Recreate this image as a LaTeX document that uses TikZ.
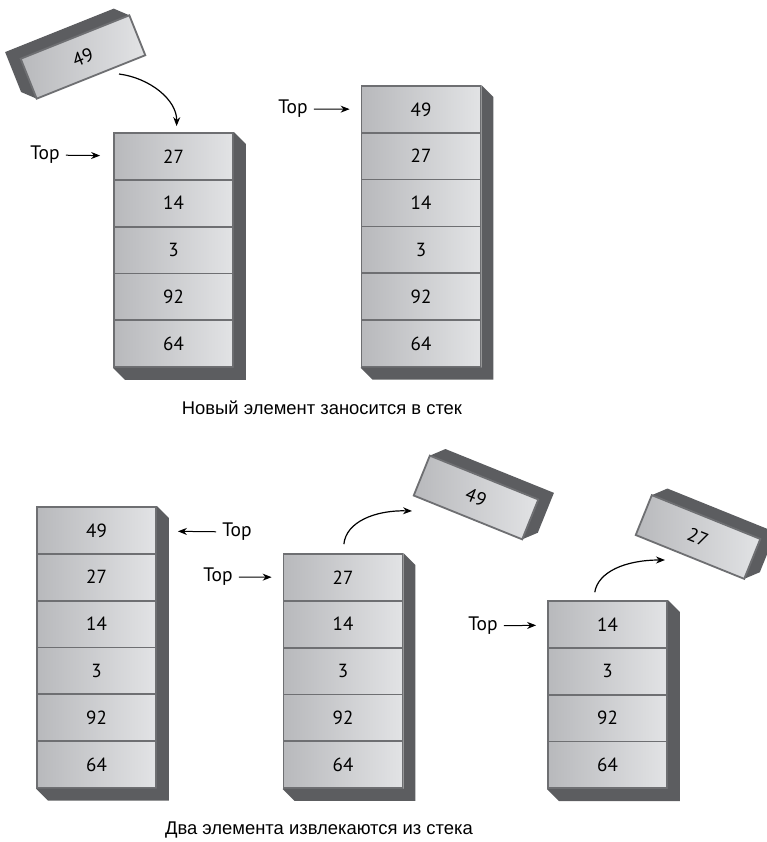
\documentclass[tikz,border=0pt]{standalone}
\usepackage{fontspec}
\setmainfont{PT Sans}
\newfontfamily\capfont{Liberation Sans}
\usetikzlibrary{arrows.meta}

\definecolor{cellL}{RGB}{184,185,188}
\definecolor{cellR}{RGB}{226,227,229}
\definecolor{cellEdge}{RGB}{110,111,114}
\definecolor{cellShade}{RGB}{92,93,96}

\begin{document}
\begin{tikzpicture}[x=1pt, y=-1pt, >={Stealth[length=9pt,width=7pt]}]
	\tikzstyle{cell}=[rectangle, draw=cellEdge, line width=1.8pt, left color=cellL, right color=cellR, minimum width=119pt, minimum height=46.8pt, inner sep=0pt, font=\fontsize{19}{19}\selectfont]
	\tikzstyle{side}=[fill=cellShade]
	\tikzstyle{toplabel}=[font=\fontsize{19.5}{19.5}\selectfont, inner sep=2pt]
	\tikzstyle{caption}=[font=\capfont\fontsize{18.4}{18.4}\selectfont]
	\tikzstyle{move}=[->, line width=1.2pt]
	\useasboundingbox (0,0) rectangle (767,842);

	% push: stack before
	\foreach \v [count=\i] in {27,14,3,92,64}
		\draw node[cell] at (173.5, {156.4+(\i-1)*46.8}) (a\i) {\v};
	\fill[side] (a1.north east) -- ++(12,12) -- ([shift={(12,12)}]a5.south east) -- ([shift={(12,12)}]a5.south west) -- (a5.south west) -- (a5.south east) -- cycle;

	% push: stack after
	\foreach \v [count=\i] in {49,27,14,3,92,64}
		\draw node[cell] at (421, {109.4+(\i-1)*46.8}) (b\i) {\v};
	\fill[side] (b1.north east) -- ++(12,12) -- ([shift={(12,12)}]b6.south east) -- ([shift={(12,12)}]b6.south west) -- (b6.south west) -- (b6.south east) -- cycle;

	% pop: three stacks
	\foreach \v [count=\i] in {49,27,14,3,92,64}
		\draw node[cell] at (96.5, {530.4+(\i-1)*46.8}) (c\i) {\v};
	\fill[side] (c1.north east) -- ++(12,12) -- ([shift={(12,12)}]c6.south east) -- ([shift={(12,12)}]c6.south west) -- (c6.south west) -- (c6.south east) -- cycle;

	\foreach \v [count=\i] in {27,14,3,92,64}
		\draw node[cell] at (343, {577.4+(\i-1)*46.8}) (d\i) {\v};
	\fill[side] (d1.north east) -- ++(12,12) -- ([shift={(12,12)}]d5.south east) -- ([shift={(12,12)}]d5.south west) -- (d5.south west) -- (d5.south east) -- cycle;

	\foreach \v [count=\i] in {14,3,92,64}
		\draw node[cell] at (607.5, {624.4+(\i-1)*46.8}) (e\i) {\v};
	\fill[side] (e1.north east) -- ++(12,12) -- ([shift={(12,12)}]e4.south east) -- ([shift={(12,12)}]e4.south west) -- (e4.south west) -- (e4.south east) -- cycle;

	% tilted elements
	\begin{scope}[shift={(83,57)}, rotate=21.8]
		\fill[side] (-58.5,21.5) -- (-70.5,9.5) -- (-70.5,-33.5) -- (46.5,-33.5) -- (58.5,-21.5) -- (-58.5,-21.5) -- cycle;
		\draw node[cell, minimum width=117pt, minimum height=43pt, rotate=21.8] at (0,0) (new49) {49};
	\end{scope}
	\begin{scope}[shift={(476,497.5)}, rotate=-22]
		\fill[side] (-58.5,-21.5) -- (-46.5,-33.5) -- (70.5,-33.5) -- (70.5,9.5) -- (58.5,21.5) -- (58.5,-21.5) -- cycle;
		\draw node[cell, minimum width=117pt, minimum height=43pt, rotate=-22] at (0,0) (out49) {49};
	\end{scope}
	\begin{scope}[shift={(698,537)}, rotate=-22]
		\fill[side] (-58.5,-21.5) -- (-46.5,-33.5) -- (70.5,-33.5) -- (70.5,9.5) -- (58.5,21.5) -- (58.5,-21.5) -- cycle;
		\draw node[cell, minimum width=117pt, minimum height=43pt, rotate=-22] at (0,0) (out27) {27};
	\end{scope}

	% Top pointers
	\draw node[toplabel] at (45, 155) (topa) {Top};
	\draw node[toplabel] at (293, 109) (topb) {Top};
	\draw node[toplabel] at (237, 532) (topc) {Top};
	\draw node[toplabel] at (218, 577) (topd) {Top};
	\draw node[toplabel] at (483, 626) (tope) {Top};
	\draw [->, line width=1pt, shorten >=13pt, shorten <=4pt] (topa) -- (a1);
	\draw [->, line width=1pt, shorten >=11pt, shorten <=4pt] (topb) -- (b1);
	\draw [->, line width=1pt, shorten >=21pt, shorten <=4pt] (topc) -- (c1);
	\draw [->, line width=1pt, shorten >=11pt, shorten <=4pt] (topd) -- (d1);
	\draw [->, line width=1pt, shorten >=11pt, shorten <=4pt] (tope) -- (e1);

	% moves
	\coordinate (from49) at (119,74);
	\coordinate (to49) at (412,511);
	\coordinate (to27) at (665,560);
	\draw [move, shorten >=6pt] (from49) .. controls (150,78) and (177,100) .. ([xshift=3pt]a1.north);
	\draw [move, shorten <=9pt] (d1.north) .. controls (346,522) and (375,510) .. (to49);
	\draw [move, shorten <=8pt] ([xshift=-14pt]e1.north) .. controls (598,572) and (625,560) .. (to27);

	\draw node[caption] at (322,408) (cap1) {Новый элемент заносится в стек};
	\draw node[caption] at (319,830) (cap2) {Два элемента извлекаются из стека};
\end{tikzpicture}
\end{document}
